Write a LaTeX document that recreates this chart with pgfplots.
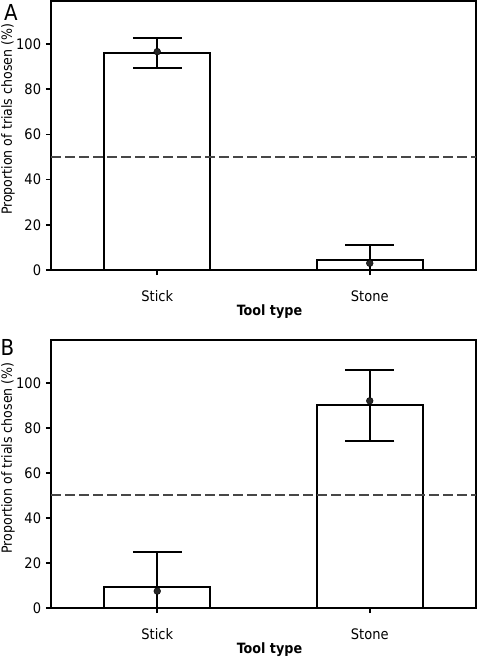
\documentclass[border=0pt]{standalone}
\usepackage{pgfplots}
\pgfplotsset{compat=1.18}
\usepackage{fontspec}
\setmainfont{DejaVu Sans Condensed}
\begin{document}
\fontsize{14.2}{17}\selectfont
\begin{tikzpicture}
\pgfplotsset{
 panel/.style={
  scale only axis, width=425pt,
  anchor=south west,
  xmin=-0.5, xmax=1.5, ymin=0, ymax=119,
  xtick={0,1}, xticklabels={Stick,Stone},
  ytick={0,20,...,100},
  tick pos=left, tick align=outside, major tick length=5pt,
  axis line style={line width=2pt},
  every tick/.style={line width=1.6pt, black},
  /pgf/number format/assume math mode=true,
  ticklabel style={font=\fontsize{14.5}{17}\selectfont},
  xticklabel style={anchor=center, yshift=-21pt},
  xlabel={\bfseries Tool type},
  every axis x label/.style={at={(rel axis cs:0.5,0)}, anchor=center, yshift=-42pt, xshift=6pt, font=\fontsize{14.2}{17}\selectfont},
  ylabel={Proportion of trials chosen (\%)},
  every axis y label/.style={at={(rel axis cs:0,0.56)}, rotate=90, anchor=center, yshift=43pt, font=\fontsize{14}{17}\selectfont},
  clip=false,
 },
 bars/.style={ybar, bar width=0.5, fill=white, draw=black, line width=2pt},
 chance/.style={dash pattern=on 9.5pt off 4.5pt, line width=2pt, color=black!72},
 errs/.style={draw=none, mark=none, error bars/.cd, y dir=both, y explicit,
   error bar style={line width=2pt, black},
   error mark options={rotate=90, mark size=24.5pt, line width=2pt, black}},
 dots/.style={only marks, mark=*, mark size=3.4pt, black, mark options={fill=black!85}},
}
% Panel A
\begin{axis}[panel, height=269pt, at={(51pt,-270pt)}]
\addplot[bars] coordinates {(0,96) (1,4.3)};
\addplot[chance] coordinates {(-0.5,50) (1.5,50)};
\addplot[errs] coordinates {(0,96) += (0,6.5) -= (0,6.8) (1,4.3) += (0,6.7) -= (0,4.3)};
\addplot[dots] coordinates {(0,96.6) (1,3)};
\end{axis}
% Panel B
\begin{axis}[panel, height=268pt, at={(51pt,-608pt)}]
\addplot[bars] coordinates {(0,9.2) (1,90)};
\addplot[chance] coordinates {(-0.5,50) (1.5,50)};
\addplot[errs] coordinates {(0,9.2) += (0,15.7) -= (0,9.2) (1,90) += (0,15.8) -= (0,15.9)};
\addplot[dots] coordinates {(0,7.5) (1,92)};
\end{axis}
\node[font=\fontsize{22}{24}\selectfont] at (11pt,-12.5pt) {A};
\node[font=\fontsize{22}{24}\selectfont] at (7.5pt,-347pt) {B};
\pgfresetboundingbox
\path[use as bounding box] (0pt,0pt) rectangle (478pt,-657pt);
\end{tikzpicture}
\end{document}
